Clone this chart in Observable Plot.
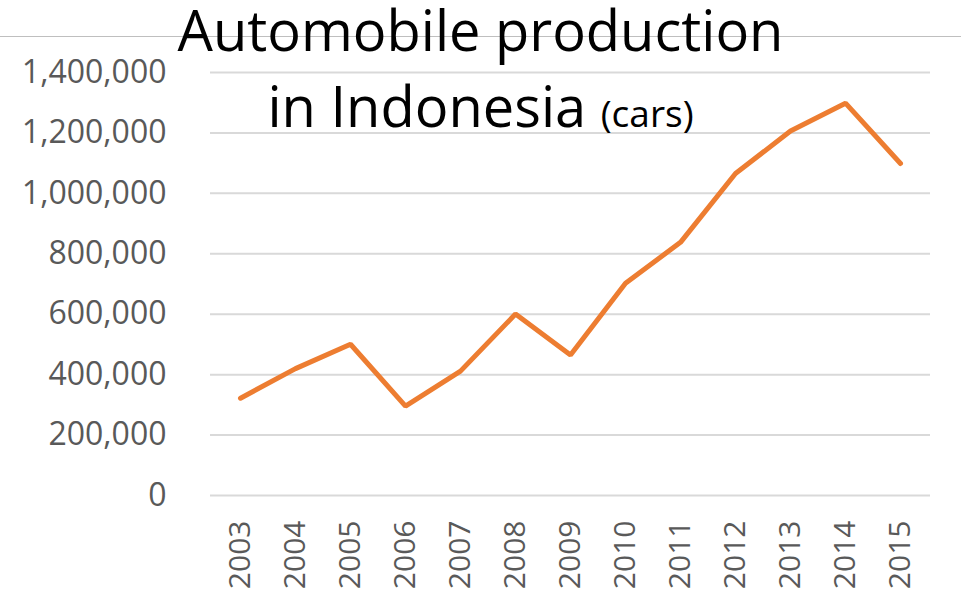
<!DOCTYPE html>
<html>
<head>
<meta charset="utf-8">
<script src="https://cdn.jsdelivr.net/npm/d3@7"></script>
<script src="https://cdn.jsdelivr.net/npm/@observablehq/plot@0.6"></script>
<style>
  html, body { margin: 0; padding: 0; background: #fff; }
  #wrap { position: relative; width: 961px; height: 595px; overflow: hidden; }
  #chart { position: absolute; left: 0; top: 0; }
  #frame { position: absolute; left: 0; top: 36px; width: 961px; height: 0; border-top: 1.5px solid #bfbfbf; }
  #title { position: absolute; left: 0; top: 0; width: 961px; height: 0; font-family: "Open Sans", sans-serif; color: #000; }
  .tl { position: absolute; left: 0; width: 961px; text-align: center; line-height: 1; white-space: nowrap; }
  #t1 { top: 1px; font-size: 56px; left: 0px; }
  #t2 { top: 77px; font-size: 56px; }
  #t2 small { font-size: 37px; }
</style>
</head>
<body>
<div id="wrap">
  <div id="chart"></div>
  <div id="frame"></div>
  <div id="title"></div>
</div>
<script>
const years = ["2003","2004","2005","2006","2007","2008","2009","2010","2011","2012","2013","2014","2015"];
const production = [322044, 420000, 500710, 296008, 411638, 600628, 464816, 702508, 837948, 1065557, 1206368, 1298523, 1098780];
const yTicks = [0, 200000, 400000, 600000, 800000, 1000000, 1200000, 1400000];
const titleLine1 = "Automobile production";
const titleLine2 = "in Indonesia";
const titleUnit = "(cars)";

const data = years.map((y, i) => ({year: y, value: production[i]}));

const chart = Plot.plot({
  width: 961,
  height: 595,
  marginLeft: 210,
  marginRight: 31,
  marginTop: 72,
  marginBottom: 100,
  style: {fontFamily: "'Open Sans', sans-serif", color: "#595959", background: "transparent"},
  x: {type: "point", domain: years, padding: 0.5, label: null},
  y: {domain: [0, 1400000], label: null},
  marks: [
    Plot.ruleY(yTicks, {stroke: "#d9d9d9", strokeWidth: 2}),
    Plot.axisY({ticks: yTicks, tickSize: 0, tickPadding: 44, tickFormat: d3.format(","), fontSize: 32, fill: "#595959", label: null}),
    Plot.axisX({tickSize: 0, tickPadding: 25, tickRotate: -90, fontSize: 30, fill: "#595959", label: null}),
    Plot.line(data, {x: "year", y: "value", stroke: "#ED7D31", strokeWidth: 5, strokeLinejoin: "miter", strokeLinecap: "round"})
  ]
});
document.getElementById("chart").appendChild(chart);

const t = document.getElementById("title");
const l1 = document.createElement("div"); l1.id = "t1"; l1.className = "tl"; l1.textContent = titleLine1;
const l2 = document.createElement("div"); l2.id = "t2"; l2.className = "tl";
l2.appendChild(document.createTextNode(titleLine2 + " "));
const sm = document.createElement("small"); sm.textContent = titleUnit; l2.appendChild(sm);
t.appendChild(l1); t.appendChild(l2);
</script>
</body>
</html>
